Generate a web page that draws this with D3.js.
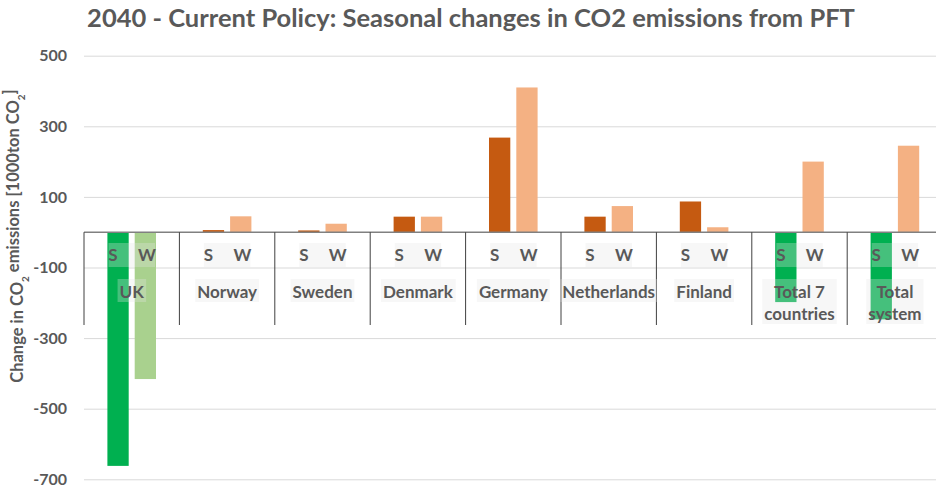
<!DOCTYPE html>
<html>
<head>
<meta charset="utf-8">
<script src="https://cdn.jsdelivr.net/npm/d3@7"></script>
<style>
  html, body { margin: 0; padding: 0; background: #fff; }
  svg { display: block; font-family: Lato, "Open Sans", sans-serif; }
</style>
</head>
<body>
<svg id="chart" width="936" height="487"></svg>
<script>
// Countries on the outer axis; each has a summer (S) and winter (W) bar
const countries = ["UK", "Norway", "Sweden", "Denmark", "Germany", "Netherlands", "Finland", "Total 7 countries", "Total system"];
const countryLines = [["UK"], ["Norway"], ["Sweden"], ["Denmark"], ["Germany"], ["Netherlands"], ["Finland"], ["Total 7", "countries"], ["Total", "system"]];
const seasons = ["S", "W"];
// Change in CO2 emissions, 1000 ton CO2
const summer = [-662, 6, 5, 44, 268, 44, 87, -198, -247];
const winter = [-416, 45, 24, 44, 410, 74, 14, 200, 245];
const yTicks = [500, 300, 100, -100, -300, -500, -700];

const svg = d3.select("#chart");
const textColor = "#595959";

const x = d3.scaleBand().domain(countries).range([84, 942.6]).paddingInner(0).paddingOuter(0);
const inner = d3.scaleBand().domain(seasons).range([0, 48.6]).paddingInner(0.22).paddingOuter(0);
const y = d3.scaleLinear().domain([-700, 500]).range([479.3, 55.7]);

const colors = {
  S: { pos: "#c55a11", neg: "#00b050" },
  W: { pos: "#f4b183", neg: "#a9d18e" }
};

// Horizontal gridlines
svg.append("g")
  .attr("transform", "translate(84,0)")
  .call(d3.axisLeft(y).tickValues(yTicks).tickSize(-(936 - 84)).tickFormat(""))
  .call(g => g.select(".domain").remove())
  .call(g => g.selectAll(".tick line").attr("stroke", "#d9d9d9").attr("stroke-width", 1));

// Y tick labels
svg.append("g")
  .attr("transform", "translate(67,0)")
  .call(d3.axisLeft(y).tickValues(yTicks).tickSize(0).tickPadding(0).tickFormat(d => String(d)))
  .call(g => g.select(".domain").remove())
  .call(g => g.selectAll(".tick text")
    .attr("fill", textColor)
    .attr("font-family", "Lato, sans-serif")
    .attr("font-weight", "bold")
    .attr("font-size", "16px"));

// Bars
const rows = countries.map((c, i) => ({ country: c, S: summer[i], W: winter[i] }));
const groupOffset = (x.bandwidth() - inner.range()[1]) / 2;
const bars = [];
rows.forEach(r => seasons.forEach(s => bars.push({ country: r.country, season: s, value: r[s] })));

svg.append("g").selectAll("rect")
  .data(bars)
  .join("rect")
  .attr("x", d => x(d.country) + groupOffset + inner(d.season))
  .attr("width", inner.bandwidth())
  .attr("y", d => y(Math.max(0, d.value)))
  .attr("height", d => Math.abs(y(d.value) - y(0)))
  .attr("fill", d => d.value >= 0 ? colors[d.season].pos : colors[d.season].neg);

// Zero axis line
svg.append("line")
  .attr("x1", 84).attr("x2", 936)
  .attr("y1", y(0)).attr("y2", y(0))
  .attr("stroke", "#808080").attr("stroke-width", 1.5);

// Category separators below the axis
svg.append("g").selectAll("line")
  .data(countries.concat(["__end"]))
  .join("line")
  .attr("x1", (d, i) => 84 + i * x.step())
  .attr("x2", (d, i) => 84 + i * x.step())
  .attr("y1", y(0))
  .attr("y2", 325)
  .attr("stroke", "#404040").attr("stroke-width", 1);

// Season labels with translucent backing
const seasonG = svg.append("g").selectAll("g")
  .data(countries)
  .join("g")
  .attr("transform", d => `translate(${x(d)},0)`);
seasonG.append("rect")
  .attr("x", 24.5).attr("y", 243).attr("width", 46.5).attr("height", 24)
  .attr("fill", "#e6e6e6").attr("fill-opacity", 0.3);
seasonG.selectAll("text")
  .data(seasons)
  .join("text")
  .attr("x", s => s === "S" ? 29 : 63)
  .attr("y", 255)
  .attr("dy", "0.35em")
  .attr("text-anchor", "middle")
  .attr("fill", textColor)
  .attr("font-weight", "bold")
  .attr("font-size", "17px")
  .text(s => s);

// Country labels
const countryG = svg.append("g").selectAll("g")
  .data(countries.map((c, i) => ({ c, lines: countryLines[i] })))
  .join("g")
  .attr("transform", d => `translate(${x(d.c) + x.bandwidth() / 2},0)`);
countryG.each(function(d) {
  const g = d3.select(this);
  const bg = g.append("rect");
  const t = g.append("text")
    .attr("text-anchor", "middle")
    .attr("fill", textColor)
    .attr("font-weight", "bold")
    .attr("font-size", "17px");
  d.lines.forEach((line, k) => {
    t.append("tspan").attr("x", 0).attr("y", 292 + k * 22.5).attr("dy", "0.35em").text(line);
  });
  const bb = t.node().getBBox();
  bg.attr("x", bb.x - 2).attr("y", 279).attr("width", bb.width + 4)
    .attr("height", d.lines.length > 1 ? 45 : 23)
    .attr("fill", "#e6e6e6").attr("fill-opacity", 0.3);
});

// Title
svg.append("text")
  .attr("x", 471).attr("y", 18)
  .attr("dy", "0.35em")
  .attr("text-anchor", "middle")
  .attr("fill", textColor)
  .attr("font-weight", "bold")
  .attr("font-size", "25.5px")
  .text("2040 - Current Policy: Seasonal changes in CO2 emissions from PFT");

// Y axis title
const yt = svg.append("text")
  .attr("transform", "translate(17,236) rotate(-90)")
  .attr("dy", "0.35em")
  .attr("text-anchor", "middle")
  .attr("fill", textColor)
  .attr("font-weight", "bold")
  .attr("font-size", "16.5px");
yt.append("tspan").text("Change in CO");
yt.append("tspan").attr("font-size", "10px").attr("dy", "0.6em").text("2");
yt.append("tspan").attr("dy", "-0.6em").text(" emissions [1000ton CO");
yt.append("tspan").attr("font-size", "10px").attr("dy", "0.6em").text("2");
yt.append("tspan").attr("dy", "-0.6em").text("]");
</script>
</body>
</html>
